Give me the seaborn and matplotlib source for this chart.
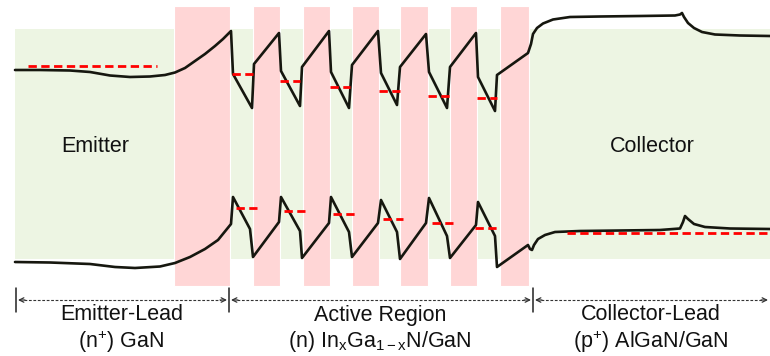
import matplotlib.pyplot as plt
import seaborn as sns

# band profile (position along device, energy)
cb_x = [15, 40, 70, 90, 110, 130, 150, 165, 175, 185, 195, 205, 215, 223, 231,
        233, 252, 254, 279, 281, 300, 302, 329, 331, 349, 352, 378, 381, 397, 400,
        426, 429, 447, 450, 476, 478, 495, 497, 528,
        531, 533, 537, 543, 553, 570, 600, 640, 675, 680, 682, 684, 688, 694, 702,
        715, 740, 770]
cb_y = [70, 70, 70.5, 72, 75.5, 77, 76.5, 75, 72.5, 68, 61, 54, 46, 39, 31,
        74, 108, 64, 33, 71, 106, 67, 31, 72, 108, 65, 31, 73, 105, 67,
        34, 72, 108, 67, 33, 77, 111, 75, 53,
        44, 34, 28, 23.5, 19.5, 17, 16.5, 16, 15.5, 14.5, 13, 17, 23, 28, 32,
        34.5, 35.5, 36]

vb_x = [15, 50, 90, 115, 135, 160, 175, 190, 205, 218, 231,
        233, 250, 253, 279, 281, 300, 302, 329, 331, 349, 352, 378, 381, 397, 400,
        426, 429, 447, 450, 476, 478, 495, 497, 528,
        530, 532, 534, 538, 545, 555, 580, 620, 660, 680, 683, 685, 688, 694, 705,
        730, 770]
vb_y = [262, 262.5, 264, 267, 268, 266.5, 263, 257, 249, 240, 224,
        197, 229, 257, 222, 197, 231, 258, 223, 197, 232, 257, 223, 200, 232, 259,
        223, 198, 236, 258, 225, 202, 236, 267, 245,
        249, 250, 245, 239, 235, 232, 231, 230.5, 230, 228.5, 222, 216, 219, 224, 227,
        228.5, 229]

# layers
barrier_x0 = [174, 253, 303, 352, 400, 450, 500]
barrier_x1 = [230, 280, 330, 379, 428, 477, 529]

# Fermi / quasi-Fermi levels
ef_emitter = (28, 157, 66)
ef_collector = (567, 770, 233)
well_x0 = [232, 280, 330, 379, 428, 477]
well_x1 = [253, 300, 350, 400, 450, 497]
cb_qfl = [74, 81, 87, 91, 96, 98]
vb_x0 = [236, 284, 333, 383, 432, 475]
vb_x1 = [257, 305, 355, 403, 453, 497]
vb_qfl = [208, 211, 214, 219, 223, 228]

region_edges = [16, 229, 533, 770]
region_top = ["Emitter-Lead", "Active Region", "Collector-Lead"]
region_bottom = [r"(n$^{\mathregular{+}}$) GaN",
                 r"(n) In$_{\mathregular{x}}$Ga$_{\mathregular{1-x}}$N/GaN",
                 r"(p$^{\mathregular{+}}$) AlGaN/GaN"]

sns.set_theme(style="white")
plt.rcParams["font.family"] = ["Liberation Sans", "DejaVu Sans"]
plt.rcParams["mathtext.fontset"] = "custom"
plt.rcParams["mathtext.rm"] = "Liberation Sans"
plt.rcParams["mathtext.it"] = "Liberation Sans"

fig = plt.figure(figsize=(7.7, 3.56), dpi=100)
ax = fig.add_axes([0, 0, 1, 1])
ax.set_xlim(0, 770)
ax.set_ylim(356, 0)
ax.axis("off")

green = "#edf5e3"
pink = "#ffd6d6"
ax.fill_between([15, 770], 29, 259, color=green, lw=0, zorder=0)
for x0, x1 in zip(barrier_x0, barrier_x1):
    ax.fill_between([x0, x1], 6, 286, facecolor=pink, edgecolor="white", lw=0.8, zorder=1)

line_col = "#16170f"
sns.lineplot(x=cb_x, y=cb_y, sort=False, estimator=None, color=line_col, lw=1.9, ax=ax, zorder=3)
sns.lineplot(x=vb_x, y=vb_y, sort=False, estimator=None, color=line_col, lw=1.9, ax=ax, zorder=3)

red_kw = dict(color="red", lw=2, ls=(0, (3, 1.6)), zorder=4)
ax.plot(ef_emitter[:2], [ef_emitter[2]] * 2, **red_kw)
ax.plot(ef_collector[:2], [ef_collector[2]] * 2, **red_kw)
for x0, x1, y in zip(well_x0, well_x1, cb_qfl):
    ax.plot([x0, x1], [y, y], **red_kw)
for x0, x1, y in zip(vb_x0, vb_x1, vb_qfl):
    ax.plot([x0, x1], [y, y], **red_kw)

ax.text(95, 146, "Emitter", fontsize=15.5, ha="center", va="center", color="#111", zorder=5)
ax.text(652, 146, "Collector", fontsize=15.5, ha="center", va="center", color="#111", zorder=5)

# region brackets
arrow_y = 300
for x in region_edges[:3]:
    ax.plot([x, x], [288, 312], color="#222", lw=1.1)
for i in range(3):
    xa, xb = region_edges[i] + 2, region_edges[i + 1] - 2
    ax.plot([xa + 6, xb - 6], [arrow_y, arrow_y], color="#333", lw=0.8, ls=(0, (2.5, 1.5)))
    head = dict(arrowstyle="->", lw=0.9, color="#333", shrinkA=0, shrinkB=0, mutation_scale=8)
    ax.annotate("", xy=(xa, arrow_y), xytext=(xa + 7, arrow_y), arrowprops=head)
    ax.annotate("", xy=(xb, arrow_y), xytext=(xb - 7, arrow_y), arrowprops=head)
    xc = (region_edges[i] + region_edges[i + 1]) / 2
    ax.text(xc - 1, 315, region_top[i], fontsize=15.5, ha="center", va="center", color="#111")
    ax.text(xc - 1, 342, region_bottom[i], fontsize=15.5, ha="center", va="center", color="#111")

fig.savefig("out.png", dpi=100)
